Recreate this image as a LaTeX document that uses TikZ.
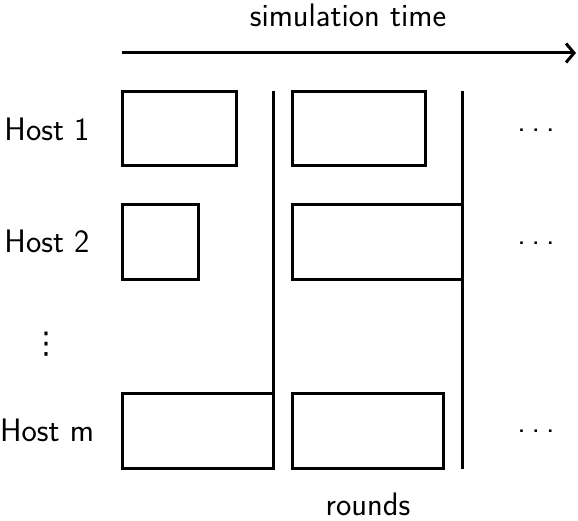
\documentclass[tikz,border=0pt]{standalone}
\usepackage{fontspec}
\newfontfamily\symfont{DejaVu Sans}
\usetikzlibrary{arrows.meta}
\begin{document}
\begin{tikzpicture}[x=1pt,y=-1pt,
  lbl/.style={font=\fontsize{32.5}{38}\selectfont\sffamily, inner sep=0pt},
  slotbox/.style={draw, line width=3pt, anchor=north west, inner sep=0pt, outer sep=0pt},
  barrier/.style={line width=3pt},
  timearrow/.style={line width=3pt, -{Straight Barb[length=8pt,width=19pt,line width=3pt]}}]
\useasboundingbox (0,0) rectangle (578,521);
% time arrow
\coordinate (ts) at (122,53);
\coordinate (te) at (576,53);
\draw[timearrow] (ts) -- (te);
\node[lbl, anchor=base] (title) at (348,27) {simulation time};
% boxes
\node[slotbox, minimum width=114pt, minimum height=74pt] (b11) at (122,92) {};
\node[slotbox, minimum width=133pt, minimum height=74pt] (b12) at (292,92) {};
\node[slotbox, minimum width=76pt, minimum height=75pt] (b21) at (122,205) {};
\node[slotbox, minimum width=170pt, minimum height=75pt] (b22) at (292,205) {};
\node[slotbox, minimum width=151pt, minimum height=75pt] (bm1) at (122,393) {};
\node[slotbox, minimum width=151pt, minimum height=75pt] (bm2) at (292,393) {};
% barriers
\coordinate (r1t) at (273,91);
\coordinate (r1b) at (273,469);
\coordinate (r2t) at (462,91);
\coordinate (r2b) at (462,469);
\draw[barrier] (r1t) -- (r1b);
\draw[barrier] (r2t) -- (r2b);
% labels
\node[lbl, anchor=base] (h1) at (47,141) {Host 1};
\node[lbl, anchor=base] (h2) at (47,253) {Host 2};
\node[lbl, anchor=base] (hm) at (47,441) {Host m};
\node[lbl, anchor=base] (rounds) at (368,515) {rounds};
\node[inner sep=0pt, font=\fontsize{30}{36}\selectfont\symfont] (hv) at (46,344) {⋮};
\node[lbl] (d1) at (536,130) {.\kern6pt.\kern6pt.};
\node[lbl] (d2) at (536,243) {.\kern6pt.\kern6pt.};
\node[lbl] (dm) at (536,431) {.\kern6pt.\kern6pt.};
\end{tikzpicture}
\end{document}
